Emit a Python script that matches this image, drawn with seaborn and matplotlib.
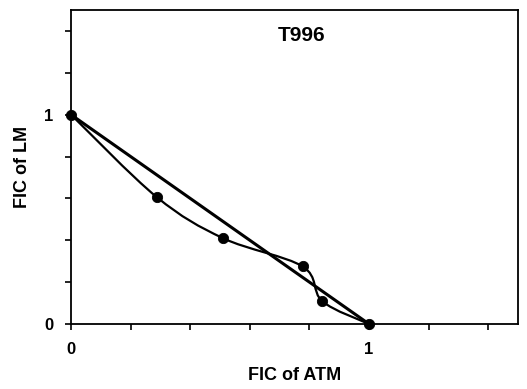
import numpy as np
import pandas as pd
import matplotlib
matplotlib.use("Agg")
import matplotlib.pyplot as plt
import seaborn as sns
from matplotlib.path import Path
from matplotlib.patches import PathPatch

# isobologram data for T996
fic_atm = [0.0, 0.287, 0.51, 0.777, 0.843, 1.0]
fic_lm = [1.0, 0.607, 0.41, 0.275, 0.109, 0.0]
additive_x = [0.0, 1.0]
additive_y = [1.0, 0.0]
tick_vals = [0, 1]
tick_labels = ["0", "1"]

sns.set_style("ticks")
plt.rcParams['font.family'] = ['Liberation Sans', 'DejaVu Sans']
plt.rcParams['font.weight'] = 'bold'
plt.rcParams['text.color'] = 'black'
plt.rcParams['axes.labelcolor'] = 'black'
plt.rcParams['xtick.color'] = 'black'
plt.rcParams['ytick.color'] = 'black'

fig = plt.figure(figsize=(5.27, 3.89), dpi=100)
ax = fig.add_axes([0.135, 0.167, 0.848, 0.807])

# straight line of additivity
sns.lineplot(x=additive_x, y=additive_y, ax=ax, color='black', linewidth=2.2,
             sort=False, errorbar=None)

# smoothed curve through the points (Catmull-Rom as bezier segments)
pts = np.column_stack([fic_atm, fic_lm])
verts = [tuple(pts[0])]
codes = [Path.MOVETO]
for i in range(len(pts) - 1):
    p0 = pts[i - 1] if i > 0 else pts[i]
    p1 = pts[i]
    p2 = pts[i + 1]
    p3 = pts[i + 2] if i + 2 < len(pts) else pts[i + 1]
    c1 = p1 + (p2 - p0) / 6.0
    c2 = p2 - (p3 - p1) / 6.0
    verts += [tuple(c1), tuple(c2), tuple(p2)]
    codes += [Path.CURVE4] * 3
ax.add_patch(PathPatch(Path(verts, codes), facecolor='none',
                       edgecolor='black', linewidth=1.6, zorder=3))

sns.scatterplot(x=fic_atm, y=fic_lm, ax=ax, color='black', s=55,
                edgecolor='black', zorder=4, clip_on=False)

ax.set_xlim(0, 1.5)
ax.set_ylim(0, 1.5)
ax.set_xticks(np.arange(0, 1.51, 0.2), minor=True)
ax.set_yticks(np.arange(0, 1.51, 0.2), minor=True)
ax.set_xticks(tick_vals)
ax.set_yticks(tick_vals)
ax.set_xticklabels(tick_labels, fontsize=12, fontweight='bold')
ax.set_yticklabels(tick_labels, fontsize=12, fontweight='bold')
ax.tick_params(which='both', direction='out', length=4, width=1.2,
               color='black', labelcolor='black')
ax.tick_params(axis='x', which='major', pad=9)
ax.tick_params(axis='y', which='major', pad=9)

for side in ['top', 'right', 'left', 'bottom']:
    ax.spines[side].set_visible(True)
    ax.spines[side].set_linewidth(1.3)
    ax.spines[side].set_color('black')

ax.set_xlabel("FIC of ATM", fontsize=13, fontweight='bold', labelpad=7,
              color='black')
ax.set_ylabel("FIC of LM", fontsize=13, fontweight='bold', labelpad=9,
              color='black')
ax.text(0.775, 1.38, "T996", fontsize=15, fontweight='bold',
        ha='center', va='center', color='black')

fig.savefig("out.png", dpi=100)
